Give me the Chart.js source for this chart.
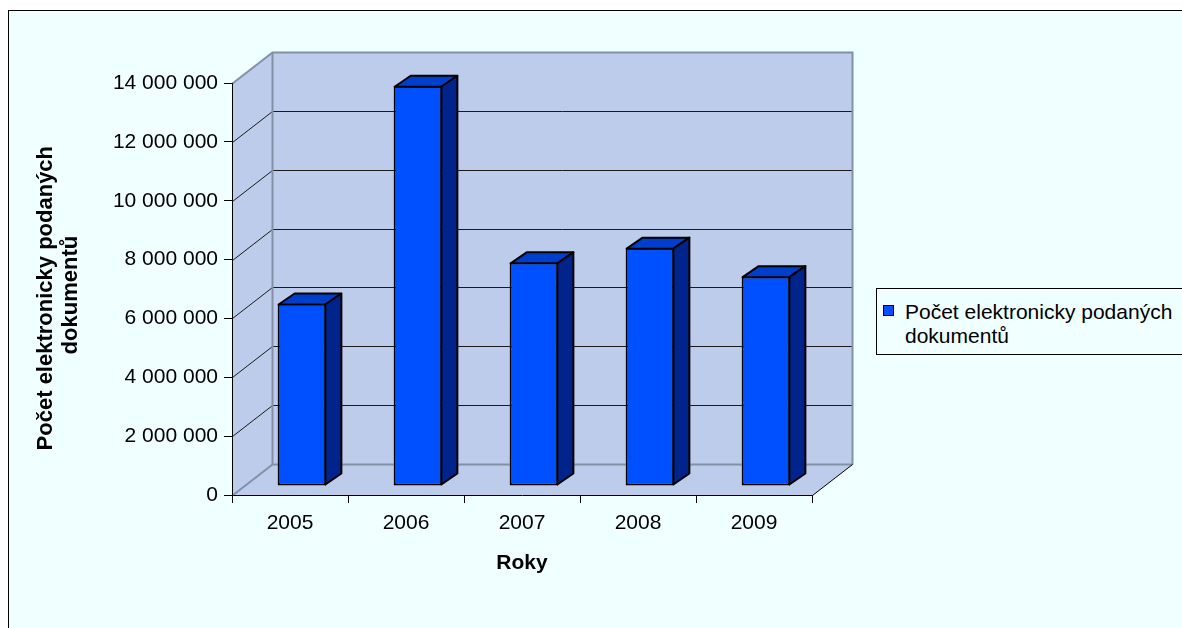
<!DOCTYPE html>
<html>
<head>
<meta charset="utf-8">
<script src="https://cdn.jsdelivr.net/npm/chart.js@4.4.0/dist/chart.umd.min.js"></script>
<style>
  html, body { margin: 0; padding: 0; background: #fff; overflow: hidden; }
  #frame { position: absolute; left: 8px; top: 10px; width: 1200px; height: 640px;
           border-left: 1px solid #000; border-top: 1px solid #000; background: #f0ffff; }
  #chart { position: absolute; left: 0; top: 0; }
  #legend { position: absolute; left: 876px; top: 288px; width: 330px; height: 65px;
            border: 1px solid #000; background: #f0ffff;
            font: 21px 'Liberation Sans', Arial, sans-serif; color: #000; }
  #legend .box { position: absolute; left: 6px; top: 16px; width: 11px; height: 11px;
                 box-sizing: border-box; border: 1px solid #000; }
  #legend .txt { position: absolute; left: 28px; top: 11px; width: 290px; line-height: 24px; }
</style>
</head>
<body>
<div id="frame"></div>
<canvas id="chart" width="1182" height="628"></canvas>
<div id="legend"></div>
<script>
// data
const years = ['2005', '2006', '2007', '2008', '2009'];
const documents = [6200000, 13600000, 7600000, 8100000, 7130000];
const seriesLabel = 'Počet elektronicky podaných dokumentů';
const yTitle = ['Počet elektronicky podaných', 'dokumentů'];
const yMin = 0, yMax = 14000000, yStep = 2000000;

// look
const FONT = "'Liberation Sans', Arial, sans-serif";
const WALL = 'rgb(189,204,234)';
const EDGE = '#8390a6';
const FRONT = 'rgb(0,80,255)';
const TOP = 'rgb(0,62,204)';
const SIDE = 'rgb(0,36,140)';
// wall depth and bar placement inside it
const DX = 40, DY = 31;
const SHIFT_X = 12, SHIFT_Y = 9;
const BAR_DX = 16, BAR_DY = 11;

Chart.defaults.color = '#000';
Chart.defaults.font.family = FONT;
Chart.defaults.font.size = 21;

function spaced(v) {
  return String(v).replace(/\B(?=(\d{3})+(?!\d))/g, ' ');
}

function poly(ctx, pts) {
  ctx.beginPath();
  ctx.moveTo(pts[0][0], pts[0][1]);
  for (let i = 1; i < pts.length; i++) ctx.lineTo(pts[i][0], pts[i][1]);
  ctx.closePath();
}

function line(ctx, pts, color) {
  ctx.beginPath();
  ctx.moveTo(pts[0][0], pts[0][1]);
  for (let i = 1; i < pts.length; i++) ctx.lineTo(pts[i][0], pts[i][1]);
  ctx.strokeStyle = color;
  ctx.stroke();
}

const threeD = {
  id: 'threeD',
  beforeDraw(chart) {
    const {ctx, chartArea: a, scales: {y}} = chart;
    const l = a.left + 0.5, r = a.right + 0.5, t = a.top + 0.5, b = a.bottom + 0.5;
    ctx.save();
    ctx.fillStyle = WALL;
    poly(ctx, [[l, t], [l + DX, t - DY], [l + DX, b - DY], [l, b]]);
    ctx.fill();
    ctx.fillRect(l + DX, t - DY, r - l, b - t);
    poly(ctx, [[l, b], [r, b], [r + DX, b - DY], [l + DX, b - DY]]);
    ctx.fill();

    ctx.lineWidth = 1;
    y.ticks.forEach(tk => {
      if (tk.value <= yMin || tk.value >= yMax) return;
      const py = Math.round(y.getPixelForValue(tk.value)) + 0.5;
      line(ctx, [[l, py], [l + DX, py - DY], [r + DX, py - DY]], '#1a1a1a');
    });
    ctx.lineWidth = 2;
    line(ctx, [[l, t], [l + DX, t - DY], [r + DX, t - DY], [r + DX, b - DY]], EDGE);
    line(ctx, [[l + DX, t - DY], [l + DX, b - DY], [r + DX, b - DY]], EDGE);
    line(ctx, [[l, b], [l + DX, b - DY]], EDGE);
    ctx.lineWidth = 1;
    line(ctx, [[r, b], [r + DX, b - DY]], '#000');
    ctx.restore();
  },
  beforeDatasetsDraw(chart) {
    chart.ctx.save();
    chart.ctx.translate(SHIFT_X, -SHIFT_Y);
  },
  afterDatasetsDraw(chart) {
    const ctx = chart.ctx;
    ctx.lineWidth = 2;
    ctx.strokeStyle = '#000';
    ctx.lineJoin = 'round';
    chart.getDatasetMeta(0).data.forEach(bar => {
      const {x, y, base, width} = bar.getProps(['x', 'y', 'base', 'width'], true);
      const l = x - width / 2, r = x + width / 2;
      poly(ctx, [[l + 1, y + 1], [r - 1, y + 1], [r - 1 + BAR_DX, y + 1 - BAR_DY], [l + 1 + BAR_DX, y + 1 - BAR_DY]]);
      ctx.fillStyle = TOP;
      ctx.fill();
      ctx.stroke();
      poly(ctx, [[r - 1, y + 1], [r - 1 + BAR_DX, y + 1 - BAR_DY], [r - 1 + BAR_DX, base - 1 - BAR_DY], [r - 1, base - 1]]);
      ctx.fillStyle = SIDE;
      ctx.fill();
      ctx.stroke();
    });
    ctx.restore();
  }
};

const chart = new Chart(document.getElementById('chart'), {
  type: 'bar',
  data: {
    labels: years,
    datasets: [{
      label: seriesLabel,
      data: documents,
      backgroundColor: FRONT,
      borderColor: '#000',
      borderWidth: 2,
      borderSkipped: false,
      barPercentage: 0.42,
      categoryPercentage: 1
    }]
  },
  options: {
    responsive: false,
    animation: false,
    layout: { padding: { left: 30, top: 83, right: 370, bottom: 0 } },
    plugins: { legend: { display: false }, tooltip: { enabled: false } },
    scales: {
      x: {
        offset: true,
        grid: { offset: true, drawOnChartArea: false, tickLength: 8, color: '#000' },
        border: { color: '#000' },
        ticks: { padding: 8 },
        title: { display: true, text: 'Roky', font: { weight: 'bold', size: 21 }, padding: { bottom: 52 } },
        afterFit(s) { s.height = 133; }
      },
      y: {
        min: yMin,
        max: yMax,
        ticks: { stepSize: yStep, padding: 6, callback: v => spaced(v) },
        grid: { drawOnChartArea: false, tickLength: 8, color: '#000' },
        border: { color: '#000' },
        title: {
          display: true,
          // trailing no-break spaces nudge the rotated title a little lower, as in the original
          text: [yTitle[0] + '\u00A0\u00A0\u00A0', yTitle[1] + '\u00A0\u00A0'],
          font: { weight: 'bold', size: 22, lineHeight: 1.12 },
          padding: { top: 4 }
        },
        afterFit(s) { s.width = 202; }
      }
    }
  },
  plugins: [threeD]
});

// legend box built from the dataset
const ds = chart.data.datasets[0];
document.getElementById('legend').innerHTML =
  '<div class="box" style="background:' + ds.backgroundColor + '"></div>' +
  '<div class="txt">' + ds.label + '</div>';
</script>
</body>
</html>
